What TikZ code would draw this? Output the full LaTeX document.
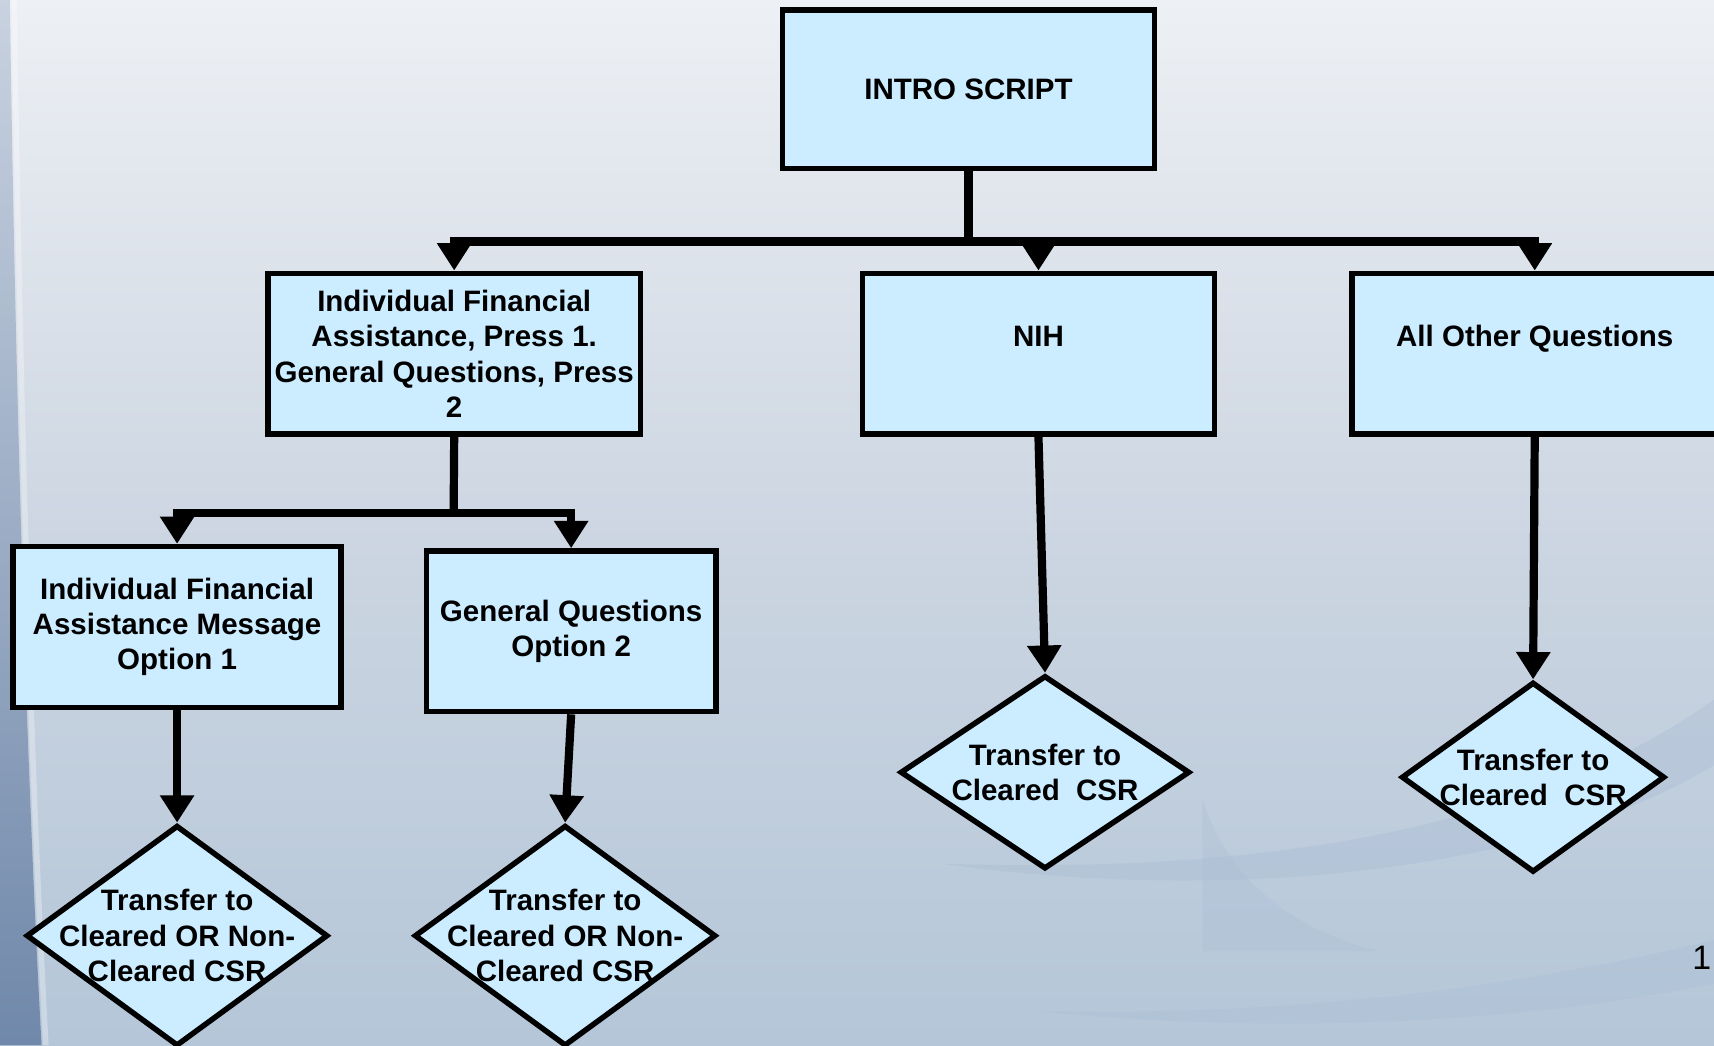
\documentclass[tikz,border=0pt]{standalone}
\usepackage{fontspec}
\setmainfont{Liberation Sans}
\usetikzlibrary{arrows.meta,shapes.geometric}
\definecolor{boxfill}{RGB}{204,236,255}
\definecolor{bgtop}{RGB}{237,240,244}
\definecolor{bgmid}{RGB}{205,214,226}
\definecolor{bgbot}{RGB}{180,198,216}
\definecolor{stripdark}{RGB}{112,136,170}
\definecolor{stripLight}{RGB}{200,210,224}
\definecolor{swoosh}{RGB}{168,186,212}
\tikzset{
  boxtxt/.style={font=\fontsize{27}{32.4}\selectfont\bfseries, align=center, text=black},
  rectbox/.style={boxtxt, draw=black, line width=5pt, fill=boxfill, rectangle, inner sep=0pt, line join=miter},
  diabox/.style={draw=black, line width=5pt, fill=boxfill, diamond, inner sep=0pt, line join=miter},
  conn/.style={draw=black, line width=7.5pt},
  arrowconn/.style={conn, -{Triangle[width=30pt,length=25pt]}},
}
\begin{document}
\begin{tikzpicture}[x=1pt,y=-1pt]
\useasboundingbox (0,0) rectangle (1568,956);
% background
\shade[top color=bgtop, bottom color=bgbot, middle color=bgmid] (0,0) rectangle (1568,956);
\fill[swoosh, opacity=0.35] (1568,640) .. controls (1400,760) and (1150,800) .. (860,790) .. controls (1150,830) and (1420,790) .. (1568,700) -- cycle;
\fill[swoosh, opacity=0.25] (1100,730) .. controls (1120,800) and (1180,850) .. (1260,870) -- (1100,870) -- cycle;
\fill[swoosh, opacity=0.28] (1568,860) .. controls (1400,900) and (1200,930) .. (950,925) .. controls (1200,950) and (1420,930) .. (1568,900) -- cycle;
\shade[top color=stripLight, bottom color=stripdark] (0,0) -- (9,0) .. controls (14,350) and (24,700) .. (38,956) -- (0,956) -- cycle;
\draw[white, opacity=0.3, line width=5pt] (13,0) .. controls (18,350) and (28,700) .. (42,956);

% nodes
\node[rectbox, minimum width=340pt, minimum height=145pt] (intro) at (886,81.5) {INTRO SCRIPT};
\node[rectbox, minimum width=341pt, minimum height=147pt] (ifa) at (415.5,323.5) {Individual Financial\\Assistance, Press 1.\\General Questions, Press\\2};
\node[rectbox, minimum width=322pt, minimum height=147pt] (nih) at (950,323.5) {NIH\\ \mbox{}};
\node[rectbox, minimum width=334pt, minimum height=147pt] (other) at (1404,323.5) {All Other Questions\\ \mbox{}};
\node[rectbox, minimum width=300pt, minimum height=147pt] (opt1) at (162,573.5) {Individual Financial\\Assistance Message\\Option 1};
\node[rectbox, minimum width=265pt, minimum height=147pt] (opt2) at (522.5,577.5) {General Questions\\Option 2};

\node[diabox, minimum width=276pt, minimum height=202pt] (d1) at (162,856) {};
\node[diabox, minimum width=276pt, minimum height=202pt] (d2) at (517,856) {};
\node[diabox, minimum width=265pt, minimum height=177pt] (d3) at (956,706.5) {};
\node[diabox, minimum width=241pt, minimum height=174pt] (d4) at (1402.5,711) {};
\node[boxtxt] (d1t) at (d1.center) {Transfer to\\Cleared OR Non-\\Cleared CSR};
\node[boxtxt] (d2t) at (d2.center) {Transfer to\\Cleared OR Non-\\Cleared CSR};
\node[boxtxt] (d3t) at (d3.center) {Transfer to\\Cleared~ CSR};
\node[boxtxt] (d4t) at (d4.center) {Transfer to\\Cleared~ CSR};

\node[anchor=west, inner sep=0pt, font=\fontsize{31}{36}\selectfont] (pg) at (1548,876) {1};

% connectors
\coordinate (bus) at (886,221);
\coordinate (sub) at (415,469);
\draw[conn] (intro.south) -- (bus);
\draw[arrowconn] (bus) -| (ifa.north);
\draw[arrowconn] (bus) -| (nih.north);
\draw[arrowconn] (bus) -| (other.north);
\draw[conn] (ifa.south) -- (sub);
\draw[arrowconn] (sub) -| (opt1.north);
\draw[arrowconn] (sub) -| (opt2.north);
\draw[arrowconn] (opt1.south) -- (d1.north);
\draw[arrowconn] (opt2.south) -- (d2.north);
\draw[arrowconn] (nih.south) -- (d3.north);
\draw[arrowconn] (other.south) -- (d4.north);
\end{tikzpicture}
\end{document}
